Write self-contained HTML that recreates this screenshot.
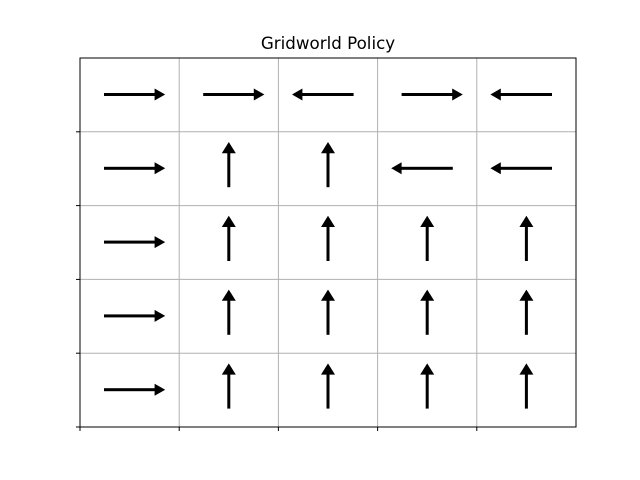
<!DOCTYPE html>
<html><head><meta charset="utf-8"><style>
html,body{margin:0;padding:0;background:#fff;}
svg{display:block;}
</style></head><body>
<svg width="640" height="480" xmlns="http://www.w3.org/2000/svg">
<rect width="640" height="480" fill="#fff"/>
<text x="328" y="49" font-family="DejaVu Sans, sans-serif" font-size="16.7" text-anchor="middle" fill="#000">Gridworld Policy</text>
<g stroke="#b0b0b0" stroke-width="1">
<line x1="179.2" y1="58" x2="179.2" y2="427"/>
<line x1="278.4" y1="58" x2="278.4" y2="427"/>
<line x1="377.6" y1="58" x2="377.6" y2="427"/>
<line x1="476.8" y1="58" x2="476.8" y2="427"/>
<line x1="80" y1="131.8" x2="576" y2="131.8"/>
<line x1="80" y1="205.6" x2="576" y2="205.6"/>
<line x1="80" y1="279.4" x2="576" y2="279.4"/>
<line x1="80" y1="353.2" x2="576" y2="353.2"/>
</g>
<rect x="80" y="58" width="496" height="369" fill="none" stroke="#000" stroke-width="1"/>
<g stroke="#000" stroke-width="1">
<line x1="76" y1="131.8" x2="80" y2="131.8"/>
<line x1="76" y1="205.6" x2="80" y2="205.6"/>
<line x1="76" y1="279.4" x2="80" y2="279.4"/>
<line x1="76" y1="353.2" x2="80" y2="353.2"/>
<line x1="76" y1="427" x2="80" y2="427"/>
<line x1="80" y1="427" x2="80" y2="431"/>
<line x1="179.2" y1="427" x2="179.2" y2="431"/>
<line x1="278.4" y1="427" x2="278.4" y2="431"/>
<line x1="377.6" y1="427" x2="377.6" y2="431"/>
<line x1="476.8" y1="427" x2="476.8" y2="431"/>
</g>
<defs>
<g id="R"><rect x="-25.6" y="-1.5" width="52" height="3" fill="#000"/><polygon points="25,-6 35.6,0 25,6" fill="#000"/></g>
<g id="L"><rect x="-26.4" y="-1.5" width="52" height="3" fill="#000"/><polygon points="-25.6,-6 -36,0 -25.6,6" fill="#000"/></g>
<g id="U"><rect x="-1.5" y="-16" width="3" height="34.6" fill="#000"/><polygon points="-7,-15.4 0,-26.6 7,-15.4" fill="#000"/></g>
</defs>
<use href="#R" x="129.6" y="94.5"/>
<use href="#R" x="228.8" y="94.5"/>
<use href="#L" x="328" y="94.5"/>
<use href="#R" x="427.2" y="94.5"/>
<use href="#L" x="526.4" y="94.5"/>
<use href="#R" x="129.6" y="168.3"/>
<use href="#U" x="228.8" y="168.6"/>
<use href="#U" x="328" y="168.6"/>
<use href="#L" x="427.2" y="168.3"/>
<use href="#L" x="526.4" y="168.3"/>
<use href="#R" x="129.6" y="242.1"/>
<use href="#U" x="228.8" y="242.4"/>
<use href="#U" x="328" y="242.4"/>
<use href="#U" x="427.2" y="242.4"/>
<use href="#U" x="526.4" y="242.4"/>
<use href="#R" x="129.6" y="315.9"/>
<use href="#U" x="228.8" y="316.2"/>
<use href="#U" x="328" y="316.2"/>
<use href="#U" x="427.2" y="316.2"/>
<use href="#U" x="526.4" y="316.2"/>
<use href="#R" x="129.6" y="389.7"/>
<use href="#U" x="228.8" y="390"/>
<use href="#U" x="328" y="390"/>
<use href="#U" x="427.2" y="390"/>
<use href="#U" x="526.4" y="390"/>
</svg>
</body></html>
